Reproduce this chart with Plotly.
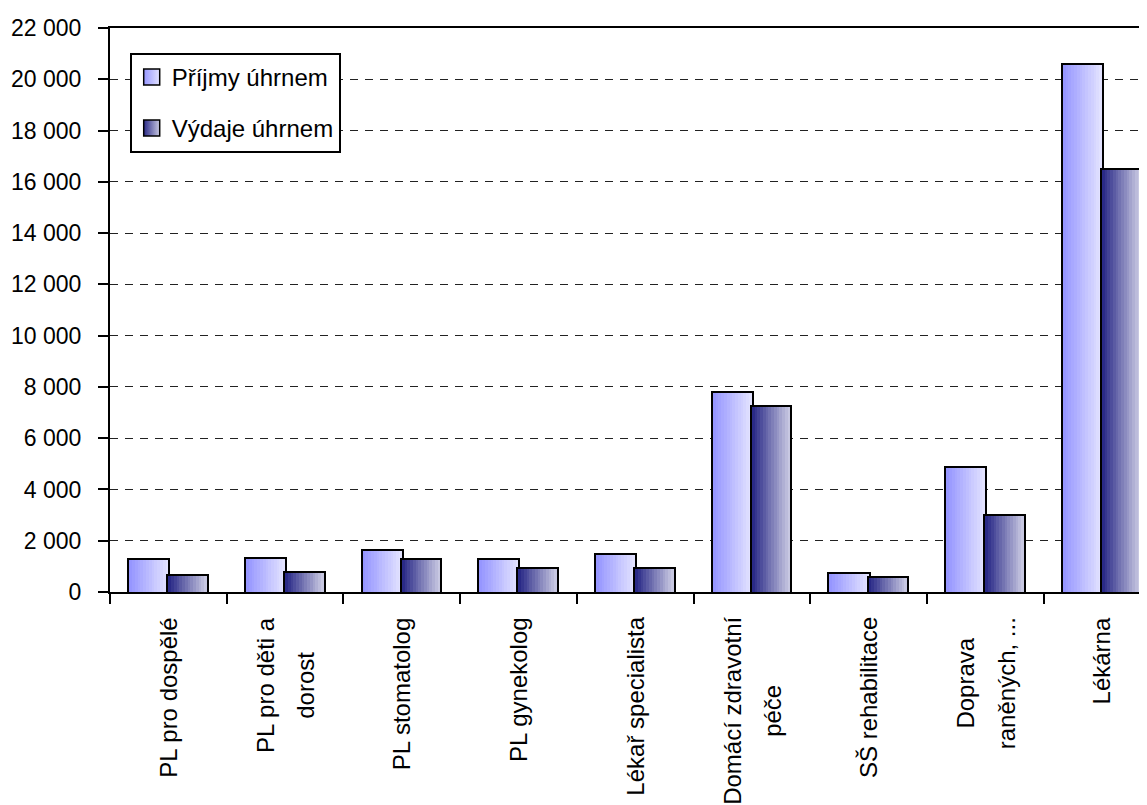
import plotly.graph_objects as go

categories = ["PL pro dospělé", "PL pro děti a dorost", "PL stomatolog", "PL gynekolog",
              "Lékař specialista", "Domácí zdravotní péče", "SŠ rehabilitace",
              "Doprava raněných, ...", "Lékárna"]
label_lines = [["PL pro dospělé"], ["PL pro děti a", "dorost"], ["PL stomatolog"], ["PL gynekolog"],
               ["Lékař specialista"], ["Domácí zdravotní", "péče"], ["SŠ rehabilitace"],
               ["Doprava", "raněných, ..."], ["Lékárna"]]
prijmy = [1230, 1290, 1610, 1230, 1460, 7770, 690, 4820, 20550]
vydaje = [610, 760, 1230, 905, 905, 7230, 535, 2950, 16460]
y_ticks = list(range(0, 22001, 2000))

FONT = "Liberation Sans, Arial, sans-serif"
N = 14


def lerp(c1, c2, t):
    return "rgb(%d,%d,%d)" % tuple(round(a + (b - a) * t) for a, b in zip(c1, c2))


series = [
    dict(name="Příjmy úhrnem", vals=prijmy, off=-0.335, w=0.335,
         c1=(150, 150, 255), c2=(226, 226, 255), grp="p"),
    dict(name="Výdaje úhrnem", vals=vydaje, off=0.0, w=0.33,
         c1=(42, 42, 135), c2=(200, 200, 226), grp="v"),
]

fig = go.Figure()
for s in series:
    # outline (behind the gradient strips)
    fig.add_trace(go.Bar(
        x=categories, y=s["vals"], name=s["name"], legendgroup=s["grp"],
        offset=s["off"], width=s["w"],
        marker=dict(color=lerp(s["c1"], s["c2"], 0.5), line=dict(color="black", width=4)),
        showlegend=False, hoverinfo="skip"))
    # gradient strips
    sw = s["w"] / N
    for k in range(N):
        wk = sw if k == N - 1 else sw * 1.08
        fig.add_trace(go.Bar(
            x=categories, y=s["vals"], legendgroup=s["grp"], showlegend=False,
            offset=s["off"] + k * sw, width=wk,
            marker=dict(color=lerp(s["c1"], s["c2"], k / (N - 1)), line=dict(width=0)),
            hoverinfo="skip"))
    # legend entry (square marker with horizontal gradient)
    fig.add_trace(go.Scatter(
        x=[None], y=[None], mode="markers", name=s["name"], legendgroup=s["grp"],
        showlegend=True, hoverinfo="skip",
        marker=dict(symbol="square", size=16, color="rgb(%d,%d,%d)" % s["c1"],
                    gradient=dict(type="horizontal", color="rgb(%d,%d,%d)" % s["c2"]),
                    line=dict(color="black", width=1.5))))

for i, lines in enumerate(label_lines):
    if len(lines) == 1:
        text, size = lines[0], 24
    else:
        text = "<br>".join("<span style='font-size:24px'>%s</span>" % l for l in lines)
        size = 31
    fig.add_annotation(x=i, y=0, xref="x", yref="paper", text=text, textangle=-90,
                       showarrow=False, xanchor="center", yanchor="top", yshift=-23,
                       align="center", font=dict(family=FONT, size=size, color="black"))

# page body has an 8px margin: figure is 8px smaller and margins compensated
fig.update_layout(
    width=1139, height=797,
    margin=dict(l=102, r=0, t=20, b=213),
    paper_bgcolor="white", plot_bgcolor="white",
    barmode="overlay", bargap=0,
    separators=", ",
    font=dict(family=FONT, size=23, color="black"),
    showlegend=True,
    legend=dict(x=0.019, y=0.956, xanchor="left", yanchor="top",
                bgcolor="white", bordercolor="black", borderwidth=2,
                font=dict(size=24, family=FONT, color="black"),
                traceorder="grouped", tracegroupgap=17, itemsizing="trace"),
    xaxis=dict(type="category", categoryorder="array", categoryarray=categories,
               range=[-0.5, 8.386], showticklabels=False,
               ticks="outside", ticklen=10, tickwidth=2, tickcolor="black",
               tickson="boundaries",
               showline=True, linecolor="black", linewidth=2, mirror=True,
               showgrid=False, zeroline=False),
    yaxis=dict(range=[0, 22000], tickvals=y_ticks, tickformat=",.0f",
               ticks="outside", ticklen=10, tickwidth=2, tickcolor="black",
               ticklabelstandoff=12,
               showline=True, linecolor="black", linewidth=2,
               showgrid=True, gridcolor="#222222", gridwidth=1, griddash="8px,7px",
               zeroline=False,
               tickfont=dict(size=23, family=FONT, color="black")),
)

fig.write_html("out.html")
